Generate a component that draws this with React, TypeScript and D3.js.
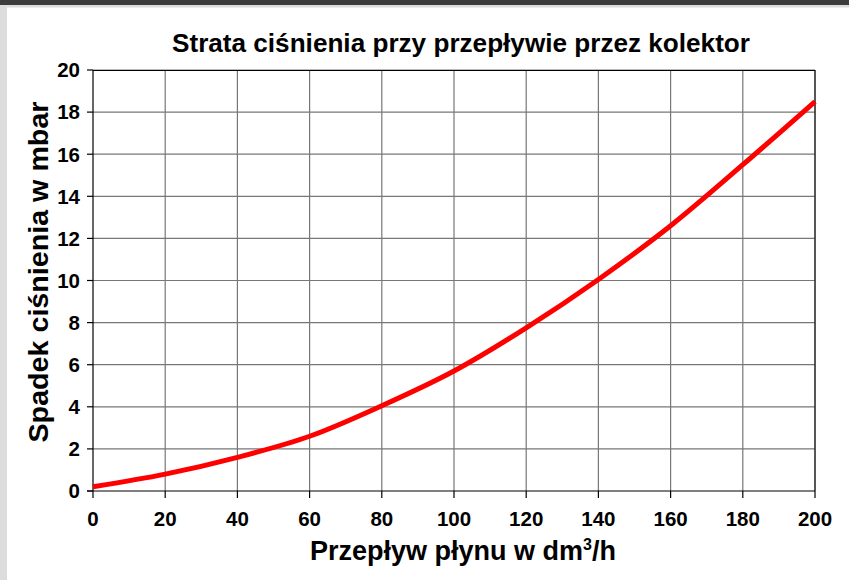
import { useEffect } from "react";
import { scaleLinear, line as d3_line, curveMonotoneX } from "d3";

const flow = [0, 20, 40, 60, 80, 100, 120, 140, 160, 180, 200];
const drop = [0.2, 0.8, 1.6, 2.6, 4.05, 5.7, 7.75, 10.05, 12.6, 15.5, 18.5];
const xTicks = [0, 20, 40, 60, 80, 100, 120, 140, 160, 180, 200];
const yTicks = [0, 2, 4, 6, 8, 10, 12, 14, 16, 18, 20];

const W = 849;
const H = 580;
const font = "'Liberation Sans', Arial, sans-serif";

export default function App() {
  useEffect(() => {
    document.body.style.margin = "0";
  }, []);

  const x = scaleLinear().domain([0, 200]).range([93, 815]);
  const y = scaleLinear().domain([0, 20]).range([491, 70]);

  const data = flow.map((f, i) => ({ f, v: drop[i] }));
  const path = d3_line<(typeof data)[number]>()
    .x((d) => x(d.f))
    .y((d) => y(d.v))
    .curve(curveMonotoneX)(data);

  return (
    <svg width={W} height={H} style={{ display: "block" }} fontFamily={font}>
      <rect width={W} height={H} fill="#fff" />
      {/* window frame */}
      <rect x={0} y={0} width={W} height={7.5} fill="#dcdcdc" />
      <rect x={0} y={0} width={7} height={H} fill="#dcdcdc" />
      <rect x={0} y={0} width={W} height={5} fill="#3c3c3c" />

      <text
        x={461}
        y={52}
        textAnchor="middle"
        fontSize={26}
        fontWeight="bold"
        textLength={578}
        lengthAdjust="spacingAndGlyphs"
      >
        Strata ciśnienia przy przepływie przez kolektor
      </text>

      {/* grid */}
      {xTicks.slice(1).map((t) => (
        <line key={"gx" + t} x1={x(t)} x2={x(t)} y1={y(20)} y2={y(0)} stroke="#777" strokeWidth={1.2} />
      ))}
      {yTicks.slice(1).map((t) => (
        <line key={"gy" + t} x1={x(0)} x2={x(200)} y1={y(t)} y2={y(t)} stroke="#777" strokeWidth={1.2} />
      ))}
      {/* frame */}
      <line x1={x(0)} x2={x(200)} y1={y(20) + 0.5} y2={y(20) + 0.5} stroke="#000" />
      <line x1={x(200)} x2={x(200)} y1={y(20)} y2={y(0)} stroke="#000" />
      <line x1={x(0)} x2={x(0)} y1={y(20)} y2={y(0)} stroke="#000" strokeWidth={1.2} />
      <line x1={x(0) - 6} x2={x(200)} y1={y(0)} y2={y(0)} stroke="#000" strokeWidth={1.2} />

      {/* y axis ticks */}
      {yTicks.map((t) => (
        <g key={"yt" + t}>
          <line x1={x(0) - 6} x2={x(0)} y1={y(t)} y2={y(t)} stroke="#000" strokeWidth={1.2} />
          <text x={x(0) - 13} y={y(t)} dy="0.36em" textAnchor="end" fontSize={20.5} fontWeight="bold">
            {t}
          </text>
        </g>
      ))}
      {/* x axis ticks */}
      {xTicks.map((t) => (
        <g key={"xt" + t}>
          <line x1={x(t)} x2={x(t)} y1={y(0)} y2={y(0) + 7} stroke="#000" strokeWidth={1.2} />
          <text x={x(t)} y={y(0) + 35} textAnchor="middle" fontSize={20.5} fontWeight="bold">
            {t}
          </text>
        </g>
      ))}

      <path d={path ?? ""} fill="none" stroke="#ff0000" strokeWidth={5} strokeLinejoin="round" />

      <text
        transform={`translate(48,272) rotate(-90)`}
        textAnchor="middle"
        fontSize={27}
        fontWeight="bold"
        textLength={341}
        lengthAdjust="spacingAndGlyphs"
      >
        Spadek ciśnienia w mbar
      </text>
      <text x={463} y={560} textAnchor="middle" fontSize={27} fontWeight="bold">
        Przepływ płynu w dm<tspan dy={-10} fontSize={16}>3</tspan>
        <tspan dy={10}>/h</tspan>
      </text>
    </svg>
  );
}
